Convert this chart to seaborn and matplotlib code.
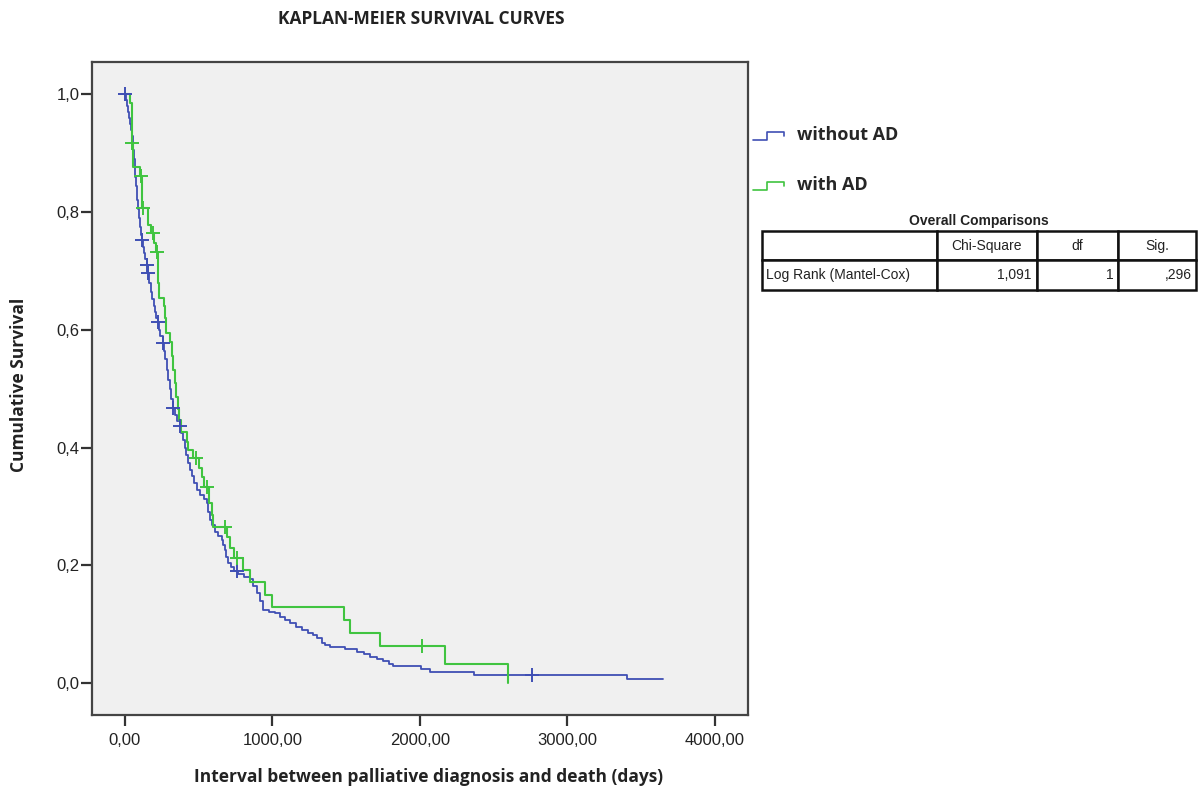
import numpy as np
import pandas as pd
import matplotlib
matplotlib.use("Agg")
import matplotlib.pyplot as plt
import seaborn as sns
from matplotlib.lines import Line2D
from matplotlib.legend_handler import HandlerBase

# Kaplan-Meier step values (time in days, survival after the step)
blue_time = [0, 10, 18, 25, 30, 36, 42, 47, 54, 58, 63, 68, 72, 77, 81, 86, 92, 98, 104, 110,
             115, 122, 130, 138, 149, 156, 165, 175, 185, 195, 205, 215, 224, 232, 240, 258,
             265, 272, 285, 295, 305, 315, 325, 340, 355, 373, 383, 393, 405, 418, 430, 441,
             455, 470, 488, 510, 535, 556, 565, 576, 590, 610, 635, 658, 668, 678, 688, 698,
             720, 740, 770, 810, 847, 870, 895, 915, 936, 975, 1017, 1050, 1085, 1119, 1160,
             1200, 1240, 1275, 1305, 1336, 1360, 1390, 1492, 1573, 1620, 1661, 1710, 1749,
             1790, 1817, 2010, 2068, 2366, 3403, 3647]
blue_surv = [1.0, 0.99, 0.98, 0.97, 0.96, 0.95, 0.94, 0.93, 0.917, 0.905, 0.89, 0.875, 0.86,
             0.845, 0.832, 0.82, 0.805, 0.79, 0.775, 0.762, 0.752, 0.74, 0.73, 0.72, 0.71,
             0.696, 0.68, 0.665, 0.652, 0.64, 0.63, 0.62, 0.613, 0.60, 0.59, 0.578, 0.565,
             0.55, 0.532, 0.515, 0.50, 0.483, 0.467, 0.455, 0.445, 0.437, 0.425, 0.413, 0.40,
             0.387, 0.374, 0.362, 0.352, 0.34, 0.328, 0.32, 0.312, 0.306, 0.29, 0.277, 0.268,
             0.256, 0.25, 0.243, 0.235, 0.226, 0.215, 0.204, 0.197, 0.19, 0.185, 0.18, 0.177,
             0.165, 0.153, 0.14, 0.124, 0.121, 0.119, 0.112, 0.107, 0.102, 0.096, 0.090,
             0.086, 0.082, 0.076, 0.068, 0.065, 0.062, 0.058, 0.053, 0.049, 0.045, 0.041,
             0.037, 0.033, 0.029, 0.024, 0.019, 0.014, 0.007, 0.007]
blue_censor = [0, 115, 149, 156, 224, 258, 325, 373, 759, 2760]

green_time = [0, 34, 47, 50, 56, 102, 115, 156, 180, 195, 210, 222, 226, 230, 264, 270, 280,
              305, 319, 325, 339, 345, 359, 365, 380, 420, 430, 461, 500, 522, 540, 569, 590,
              597, 692, 712, 740, 800, 847, 949, 997, 1485, 1525, 1729, 2169, 2597]
green_surv = [1.0, 0.986, 0.95, 0.918, 0.876, 0.862, 0.807, 0.778, 0.764, 0.748, 0.733, 0.70,
              0.68, 0.654, 0.640, 0.62, 0.594, 0.579, 0.555, 0.532, 0.510, 0.486, 0.466,
              0.447, 0.427, 0.41, 0.396, 0.382, 0.366, 0.350, 0.333, 0.306, 0.285, 0.265,
              0.248, 0.230, 0.213, 0.193, 0.172, 0.150, 0.130, 0.107, 0.085, 0.063, 0.033, 0.0]
green_censor = [52, 108, 122, 190, 217, 481, 556, 678, 759, 2014]

groups = ["without AD", "with AD"]
colors = ["#3F4FB4", "#40C440"]

x_ticks = [0, 1000, 2000, 3000, 4000]
x_tick_labels = ["0,00", "1000,00", "2000,00", "3000,00", "4000,00"]
y_ticks = [0.0, 0.2, 0.4, 0.6, 0.8, 1.0]
y_tick_labels = ["0,0", "0,2", "0,4", "0,6", "0,8", "1,0"]

table_header = ["", "Chi-Square", "df", "Sig."]
table_row = ["Log Rank (Mantel-Cox)", "1,091", "1", ",296"]

curves = pd.concat([
    pd.DataFrame({"time": blue_time, "surv": blue_surv, "group": groups[0]}),
    pd.DataFrame({"time": green_time, "surv": green_surv, "group": groups[1]}),
])


def step_lookup(times, survs, at):
    idx = np.searchsorted(times, at, side="right") - 1
    return np.asarray(survs)[idx]


censors = pd.concat([
    pd.DataFrame({"time": blue_censor,
                  "surv": step_lookup(blue_time, blue_surv, blue_censor), "group": groups[0]}),
    pd.DataFrame({"time": green_censor,
                  "surv": step_lookup(green_time, green_surv, green_censor), "group": groups[1]}),
])

sns.set_style("ticks")
plt.rcParams["font.family"] = ["Liberation Sans", "DejaVu Sans"]
bold_font = ["Open Sans", "DejaVu Sans"]

fig = plt.figure(figsize=(11.98, 7.91), dpi=100)
ax = fig.add_axes([92 / 1198, 1 - 715 / 791, 656 / 1198, 653 / 791])
ax.set_facecolor("#F0F0F0")

palette = dict(zip(groups, colors))
for g, lw in zip(groups, [1.3, 1.5]):
    sub = curves[curves.group == g]
    sns.lineplot(data=sub, x="time", y="surv", color=palette[g], drawstyle="steps-post",
                 estimator=None, sort=False, linewidth=lw, ax=ax, legend=False)
sns.scatterplot(data=censors, x="time", y="surv", hue="group", palette=palette, marker="+",
                s=100, linewidth=1.4, ax=ax, legend=False, zorder=3)

ax.set_xlim(-222, 4224)
ax.set_ylim(-0.054, 1.055)
ax.set_xticks(x_ticks)
ax.set_xticklabels(x_tick_labels)
ax.set_yticks(y_ticks)
ax.set_yticklabels(y_tick_labels)
ax.tick_params(axis="both", direction="out", length=8, width=1.6, color="#333333",
               labelsize=12, labelcolor="#222222")
ax.tick_params(axis="y", pad=1)
ax.tick_params(axis="x", pad=5)
for sp in ax.spines.values():
    sp.set_visible(True)
    sp.set_linewidth(1.6)
    sp.set_color("#444444")

ax.set_xlabel("Interval between palliative diagnosis and death (days)", fontsize=12.5,
              fontweight="bold", family=bold_font, color="#222222")
ax.set_ylabel("Cumulative Survival", fontsize=12.5, fontweight="bold",
              family=bold_font, color="#222222")
ax.xaxis.set_label_coords((429 - 92) / 656, (715 - 768) / 653)
ax.yaxis.set_label_coords((28 - 92) / 656, (715 - 385) / 653)

fig.text(421 / 1198, 1 - 19 / 791, "KAPLAN-MEIER SURVIVAL CURVES", ha="center", va="center",
         fontsize=12.5, fontweight="bold", family=bold_font, color="#222222")


class StepHandler(HandlerBase):
    def create_artists(self, legend, orig_handle, xdescent, ydescent, width, height,
                       fontsize, trans):
        xs = np.array([0, 0.45, 0.45, 1.0, 1.0]) * width - xdescent
        ys = np.array([0.0, 0.0, 0.6, 0.6, 0.3]) * height - ydescent
        line = Line2D(xs, ys, color=orig_handle.get_color(), linewidth=1.2, transform=trans)
        return [line]


handles = [Line2D([], [], color=c) for c in colors]
fig.legend(handles, groups, loc="upper left", bbox_to_anchor=(753 / 1198, 1 - 126 / 791),
           frameon=False, handler_map={Line2D: StepHandler()}, handlelength=1.7,
           handletextpad=0.75, labelspacing=1.75, borderpad=0, borderaxespad=0,
           prop={"family": bold_font, "weight": "bold", "size": 13})

# Overall comparisons table
fig.text(979 / 1198, 1 - 221 / 791, "Overall Comparisons", ha="center", va="center",
         fontsize=10, fontweight="bold", color="#222222")
tax = fig.add_axes([762 / 1198, 1 - 290 / 791, 434 / 1198, 59 / 791])
tax.axis("off")
tbl = tax.table(cellText=[table_header, table_row], colWidths=[175, 100, 81, 78],
                bbox=[0, 0, 1, 1])
tbl.auto_set_font_size(False)
for (r, c), cell in tbl.get_celld().items():
    cell.set_linewidth(1.8)
    cell.set_edgecolor("#111111")
    cell.get_text().set_fontsize(10)
    cell.get_text().set_color("#222222")
    if r == 0:
        cell.get_text().set_ha("center")
    elif c == 0:
        cell.get_text().set_ha("left")
        cell.PAD = 0.02
    else:
        cell.get_text().set_ha("right")
        cell.PAD = 0.06

fig.savefig("out.png", dpi=100)
